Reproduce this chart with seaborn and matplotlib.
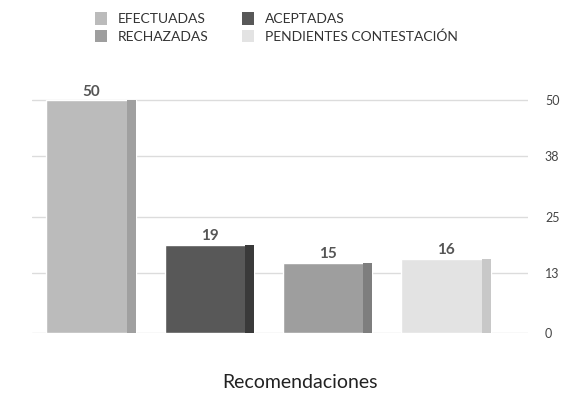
import matplotlib
matplotlib.use("Agg")
import matplotlib.pyplot as plt
import matplotlib.patches as mpatches
import seaborn as sns
import pandas as pd

categories = ["EFECTUADAS", "ACEPTADAS", "RECHAZADAS", "PENDIENTES CONTESTACIÓN"]
values = [50, 19, 15, 16]
colors = ["#bbbbbb", "#585858", "#9e9e9e", "#e3e3e3"]
side_colors = ["#a0a0a0", "#3a3a3a", "#7e7e7e", "#c8c8c8"]
tick_values = [0, 13, 25, 38, 50]
xlabel = "Recomendaciones"

sns.set_style("white")
plt.rcParams["font.family"] = ["Lato", "DejaVu Sans"]

df = pd.DataFrame({"cat": categories, "val": values})

fig = plt.figure(figsize=(5.87, 3.98), dpi=100)
ax = fig.add_axes([0.055, 0.163, 0.845, 0.608])

sns.barplot(data=df, x="cat", y="val", hue="cat", palette=colors,
            width=0.76, legend=False, ax=ax, zorder=3, saturation=1)

# darker side face on each bar for a raised look
bars = list(ax.patches)
for patch, sc in zip(bars, side_colors):
    x0 = patch.get_x()
    w = patch.get_width()
    h = patch.get_height()
    ax.add_patch(mpatches.Rectangle((x0 + w * 0.9, 0), w * 0.1, h,
                                    facecolor=sc, edgecolor="none", zorder=4))

for patch, v in zip(bars, values):
    ax.text(patch.get_x() + patch.get_width() / 2, v + 0.4, str(v),
            ha="center", va="bottom", fontsize=11, fontweight="bold",
            color="#555555", zorder=5)

ax.set_ylim(0, 52)
ax.set_xlim(-0.5, 3.7)
ax.set_yticks(tick_values)
ax.yaxis.tick_right()
ax.tick_params(axis="y", length=0, labelsize=9, labelcolor="#444444", pad=12)
ax.set_xticks([])
ax.grid(axis="y", color="#dcdcdc", linewidth=1, zorder=0)
for s in ax.spines.values():
    s.set_visible(False)
ax.set_ylabel("")
ax.set_xlabel("")

fig.text(300 / 587, 1 - 383 / 398, xlabel, ha="center", va="center",
         fontsize=14, color="#222222")

handles = [mpatches.Patch(facecolor=c, edgecolor="none", label=l)
           for c, l in zip(colors, categories)]
order = [0, 2, 1, 3]
fig.legend([handles[i] for i in order], [categories[i] for i in order],
           ncol=2, loc="upper left", bbox_to_anchor=(0.14, 1.0),
           frameon=False, fontsize=10, handlelength=0.9, handleheight=1.0,
           handletextpad=0.75, columnspacing=2.4, labelspacing=0.3,
           labelcolor="#333333")

fig.savefig("out.png", dpi=100)
